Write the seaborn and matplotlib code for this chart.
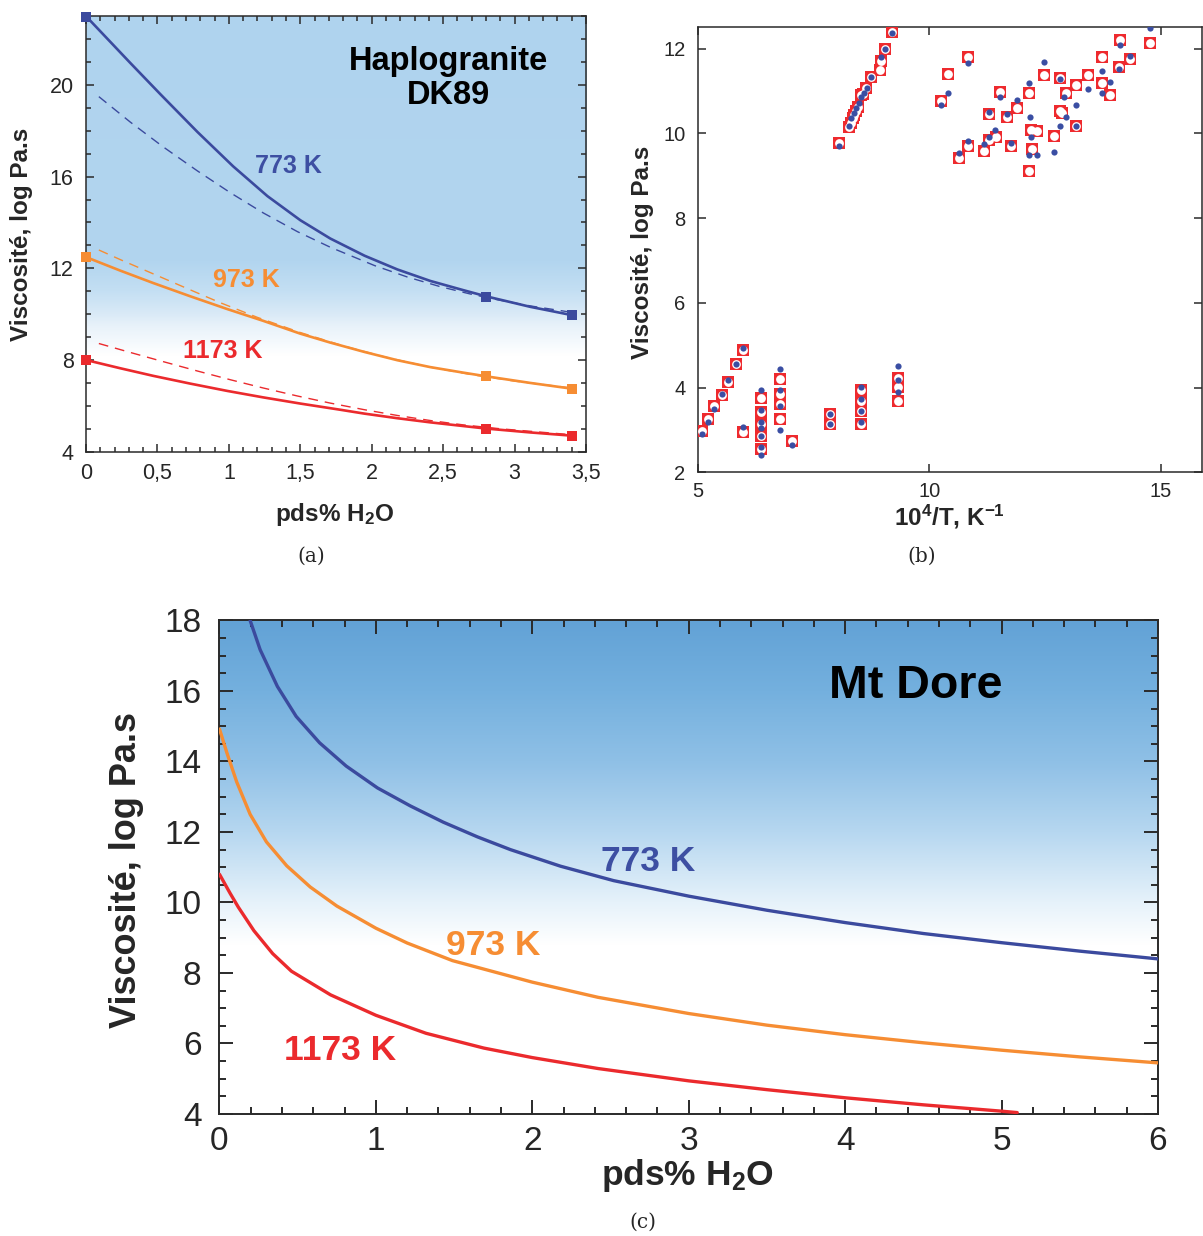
import numpy as np
import pandas as pd
import matplotlib
matplotlib.use("Agg")
import matplotlib.pyplot as plt
import seaborn as sns

# ======================= DATA =======================
# ---- (a) Haplogranite DK89 ----
a_solid_773_x = [0, 0.19, 0.31, 0.52, 0.78, 1.03, 1.27, 1.50, 1.71, 1.95, 2.18, 2.41, 2.64, 2.80, 3.11, 3.40]
a_solid_773_y = [23.0, 21.75, 20.96, 19.60, 17.95, 16.45, 15.15, 14.10, 13.30, 12.55, 11.95, 11.45, 11.05, 10.78, 10.32, 9.96]
a_dash_773_x = [0.09, 0.31, 0.54, 0.78, 1.01, 1.24, 1.48, 1.71, 2.02, 2.25, 2.48, 2.69, 2.88, 3.11, 3.40]
a_dash_773_y = [19.49, 18.38, 17.30, 16.25, 15.30, 14.42, 13.60, 12.92, 12.12, 11.62, 11.20, 10.88, 10.63, 10.36, 10.08]

a_solid_973_x = [0, 0.24, 0.47, 0.73, 0.99, 1.24, 1.50, 1.71, 1.95, 2.18, 2.41, 2.64, 2.80, 3.11, 3.40]
a_solid_973_y = [12.49, 11.90, 11.36, 10.78, 10.22, 9.71, 9.15, 8.76, 8.35, 7.99, 7.69, 7.45, 7.29, 7.00, 6.75]
a_dash_973_x = [0.09, 0.24, 0.50, 0.73, 0.94, 1.20, 1.50, 1.80, 2.10, 2.40, 2.70, 3.00, 3.40]
a_dash_973_y = [12.80, 12.38, 11.68, 11.06, 10.50, 9.86, 9.20, 8.62, 8.12, 7.70, 7.36, 7.08, 6.78]

a_solid_1173_x = [0, 0.24, 0.47, 0.73, 0.99, 1.24, 1.50, 1.78, 1.95, 2.18, 2.41, 2.64, 2.80, 3.11, 3.40]
a_solid_1173_y = [8.00, 7.64, 7.31, 6.97, 6.65, 6.37, 6.10, 5.83, 5.66, 5.46, 5.28, 5.12, 5.01, 4.84, 4.70]
a_dash_1173_x = [0.09, 0.31, 0.54, 0.78, 1.01, 1.24, 1.48, 1.71, 1.95, 2.18, 2.41, 2.64, 2.90, 3.40]
a_dash_1173_y = [8.72, 8.33, 7.93, 7.52, 7.14, 6.78, 6.43, 6.12, 5.83, 5.58, 5.36, 5.17, 5.00, 4.74]

a_sq_x = [0, 2.8, 3.4]
a_sq_773 = [22.95, 10.76, 9.96]
a_sq_973 = [12.49, 7.29, 6.75]
a_sq_1173 = [8.00, 5.00, 4.70]

a_xticks = [0, 0.5, 1, 1.5, 2, 2.5, 3, 3.5]
a_xticklabels = ["0", "0,5", "1", "1,5", "2", "2,5", "3", "3,5"]
a_yticks = [4, 8, 12, 16, 20]

# ---- (b) viscosity vs 10^4/T : red squares ----
b_sq_x = [5.09, 5.22, 5.35, 5.51, 5.65, 5.82, 5.97, 5.97,
          6.35, 6.35, 6.35, 6.35, 6.35,
          6.78, 6.78, 6.78, 6.78,
          7.02, 7.85, 7.85,
          8.52, 8.52, 8.52, 8.52,
          9.31, 9.31, 9.31,
          8.05, 8.26, 8.30, 8.34, 8.37, 8.41, 8.45, 8.52, 8.57, 8.63, 8.74, 8.94, 8.95, 9.03, 9.19,
          10.24, 10.41, 10.84, 10.63, 10.83, 11.17, 11.29, 11.29, 11.43, 11.52, 11.67, 11.76,
          11.88, 12.15, 12.15, 12.20, 12.32, 12.21, 12.47, 12.68, 12.82, 12.82, 12.87, 12.95,
          13.16, 13.16, 13.42, 13.72, 13.72, 13.90, 14.12, 14.10, 14.33, 14.76]
b_sq_y = [2.98, 3.25, 3.57, 3.82, 4.14, 4.55, 4.90, 2.96,
          3.76, 3.43, 3.14, 2.86, 2.55,
          4.20, 3.85, 3.61, 3.26,
          2.74, 3.37, 3.14,
          3.94, 3.69, 3.45, 3.14,
          4.24, 4.02, 3.69,
          9.78, 10.16, 10.25, 10.35, 10.43, 10.52, 10.63, 10.90, 10.93, 11.08, 11.33, 11.49, 11.71, 11.98, 12.38,
          10.77, 11.40, 11.81, 9.41, 9.69, 9.59, 10.46, 9.84, 9.91, 10.98, 10.38, 9.69,
          10.59, 10.96, 9.12, 10.08, 10.06, 9.63, 11.38, 9.94, 11.30, 10.53, 10.47, 10.94,
          11.14, 10.17, 11.38, 11.79, 11.18, 10.90, 12.19, 11.56, 11.75, 12.14]

# ---- (b) blue dots ----
b_dot_x = [5.09, 5.22, 5.35, 5.51, 5.65, 5.82, 5.97, 5.97,
           6.35, 6.35, 6.35, 6.35, 6.35, 6.35, 6.35,
           6.78, 6.78, 6.78, 6.78,
           7.02, 7.85, 7.85,
           8.52, 8.52, 8.52, 8.52,
           9.31, 9.31, 9.31,
           8.04, 8.26, 8.31, 8.36, 8.41, 8.47, 8.53, 8.58, 8.65, 8.74, 8.95, 9.03, 9.19,
           10.24, 10.41, 10.84, 10.63, 10.83, 11.17, 11.29, 11.29, 11.41, 11.52, 11.67, 11.76,
           11.88, 12.15, 12.18, 12.20, 12.15, 12.32, 12.47, 12.68, 12.82, 12.82, 12.90, 12.95,
           13.16, 13.16, 13.43, 13.72, 13.72, 13.90, 14.12, 14.10, 14.33, 14.76]
b_dot_y = [2.90, 3.20, 3.50, 3.84, 4.18, 4.55, 4.93, 3.08,
           3.94, 3.47, 3.20, 3.04, 2.86, 2.59, 2.41,
           4.44, 3.94, 3.57, 3.00,
           2.65, 3.39, 3.14,
           4.01, 3.73, 3.46, 3.20,
           4.50, 4.18, 3.89,
           9.70, 10.17, 10.35, 10.47, 10.59, 10.72, 10.86, 10.95, 11.06, 11.32, 11.79, 12.00, 12.36,
           10.66, 10.94, 11.65, 9.54, 9.82, 9.74, 10.51, 9.91, 10.08, 10.86, 10.46, 9.76,
           10.79, 11.18, 10.38, 9.91, 9.49, 9.50, 11.67, 9.57, 11.28, 10.17, 10.86, 10.38,
           10.67, 10.17, 11.05, 11.48, 10.94, 11.21, 12.08, 11.51, 11.83, 12.49]

b_xticks = [5, 10, 15]
b_yticks = [2, 4, 6, 8, 10, 12]

# ---- (c) Mt Dore ----
c_773_x = [0.196, 0.26, 0.37, 0.49, 0.64, 0.81, 1.01, 1.22, 1.43, 1.65, 1.86, 2.18, 2.52, 3.0, 3.5, 4.0, 4.5, 5.0, 5.5, 6.0]
c_773_y = [18.0, 17.17, 16.13, 15.28, 14.53, 13.87, 13.25, 12.74, 12.28, 11.86, 11.50, 11.03, 10.62, 10.18, 9.78, 9.43, 9.12, 8.86, 8.62, 8.40]
c_973_x = [0, 0.047, 0.11, 0.196, 0.30, 0.43, 0.58, 0.75, 1.0, 1.2, 1.49, 2.0, 2.42, 3.0, 3.5, 4.0, 4.5, 5.0, 5.5, 6.0]
c_973_y = [14.92, 14.25, 13.42, 12.50, 11.72, 11.04, 10.44, 9.90, 9.27, 8.85, 8.35, 7.74, 7.31, 6.85, 6.52, 6.25, 6.02, 5.81, 5.62, 5.45]
c_1173_x = [0, 0.068, 0.12, 0.22, 0.34, 0.46, 0.71, 1.0, 1.32, 1.69, 2.0, 2.42, 3.0, 3.5, 4.0, 4.5, 5.0, 5.1]
c_1173_y = [10.80, 10.26, 9.87, 9.20, 8.55, 8.05, 7.38, 6.80, 6.29, 5.87, 5.60, 5.29, 4.94, 4.69, 4.46, 4.26, 4.08, 4.04]

c_xticks = [0, 1, 2, 3, 4, 5, 6]
c_yticks = [4, 6, 8, 10, 12, 14, 16, 18]

# ======================= STYLE =======================
sns.set_theme(style="white")
plt.rcParams["font.family"] = ["Liberation Sans", "DejaVu Sans"]
plt.rcParams["mathtext.fontset"] = "custom"
plt.rcParams["mathtext.rm"] = "Liberation Sans"
plt.rcParams["mathtext.bf"] = "Liberation Sans:bold"
plt.rcParams["mathtext.it"] = "Liberation Sans:italic"

BLUE = "#3b4a9e"
ORANGE = "#f68d33"
RED = "#eb2a2d"
SPINE = "#2a2a2a"

fig = plt.figure(figsize=(12.03, 12.36), dpi=100)
ax_a = fig.add_axes([0.07149, 0.63455, 0.41563, 0.35235])
ax_b = fig.add_axes([0.58022, 0.61772, 0.41870, 0.36019])
ax_c = fig.add_axes([0.18246, 0.09871, 0.78013, 0.39927])


def gradient(ax, y0, y1, stops_y, stops_rgb, xlim):
    ys = np.linspace(y0, y1, 400)
    rgb = np.zeros((400, 1, 3))
    sy = np.array(stops_y)
    for k in range(3):
        rgb[:, 0, k] = np.interp(ys, sy, [c[k] for c in stops_rgb]) / 255.0
    ax.imshow(rgb, extent=[xlim[0], xlim[1], y0, y1], origin="lower",
              aspect="auto", interpolation="bilinear", zorder=0)


def style_axes(ax, lw, major_len, minor_len, pad_x, pad_y, fs):
    for s in ax.spines.values():
        s.set_visible(True)
        s.set_color(SPINE)
        s.set_linewidth(lw)
    ax.tick_params(which="both", direction="in", top=True, right=True,
                   bottom=True, left=True, color=SPINE, width=lw)
    ax.tick_params(which="major", length=major_len, labelsize=fs)
    ax.tick_params(which="minor", length=minor_len)
    ax.tick_params(axis="x", which="major", pad=pad_x)
    ax.tick_params(axis="y", which="major", pad=pad_y)


# ======================= PANEL (a) =======================
ax = ax_a
gradient(ax, 4, 23, [4, 8.2, 8.8, 9.5, 10.0, 11.0, 12.3, 23],
         [(255, 255, 255), (255, 255, 255), (244, 249, 253), (232, 242, 250),
          (218, 234, 247), (196, 223, 243), (178, 213, 239), (175, 211, 238)],
         (0, 3.5))

for xs, ys, col in [(a_solid_773_x, a_solid_773_y, BLUE),
                    (a_solid_973_x, a_solid_973_y, ORANGE),
                    (a_solid_1173_x, a_solid_1173_y, RED)]:
    sns.lineplot(x=xs, y=ys, ax=ax, color=col, lw=1.9, sort=False, estimator=None, zorder=3)
for xs, ys, col in [(a_dash_773_x, a_dash_773_y, BLUE),
                    (a_dash_973_x, a_dash_973_y, ORANGE),
                    (a_dash_1173_x, a_dash_1173_y, RED)]:
    sns.lineplot(x=xs, y=ys, ax=ax, color=col, lw=1.0, sort=False, estimator=None,
                 linestyle=(0, (7, 5)), zorder=3)
for ys, col in [(a_sq_773, BLUE), (a_sq_973, ORANGE), (a_sq_1173, RED)]:
    sns.scatterplot(x=a_sq_x, y=ys, ax=ax, color=col, marker="s", s=55,
                    linewidth=0, zorder=4, clip_on=False)

ax.set_xlim(0, 3.5)
ax.set_ylim(4, 23)
ax.set_xticks(a_xticks)
ax.set_xticklabels(a_xticklabels)
ax.set_yticks(a_yticks)
ax.set_xticks(np.arange(0, 3.5001, 0.1), minor=True)
ax.set_yticks(np.arange(4, 23.001, 1), minor=True)
style_axes(ax, 1.1, 6, 3.5, 8, 9, 15.5)

ax.set_xlabel(r"pds% H$_{\mathbf{2}}$O", fontsize=17.5, fontweight="bold",
              va="center", ha="center")
ax.xaxis.set_label_coords(0.498, -0.145)
ax.set_ylabel("Viscosité, log Pa.s", fontsize=17.5, fontweight="bold",
              va="center", ha="center")
ax.yaxis.set_label_coords(-0.129, 0.498)

ax.text(2.54, 20.28, "Haplogranite\nDK89", ha="center", va="center",
        fontsize=23.5, fontweight="bold", color="black", linespacing=1.1, zorder=5)
ax.text(1.42, 16.45, "773 K", ha="center", va="center", fontsize=18,
        fontweight="bold", color="#3d4fa2", zorder=5)
ax.text(1.12, 11.50, "973 K", ha="center", va="center", fontsize=18,
        fontweight="bold", color=ORANGE, zorder=5)
ax.text(0.96, 8.40, "1173 K", ha="center", va="center", fontsize=18,
        fontweight="bold", color=RED, zorder=5)

# ======================= PANEL (b) =======================
ax = ax_b
sns.scatterplot(x=b_sq_x, y=b_sq_y, ax=ax, marker="s", s=64, color="#ee2a2e",
                linewidth=0, zorder=3)
sns.scatterplot(x=b_sq_x, y=b_sq_y, ax=ax, marker="o", s=40, color="white",
                linewidth=0, zorder=4)
sns.scatterplot(x=b_dot_x, y=b_dot_y, ax=ax, marker="o", s=20, color="#3a4ea3",
                linewidth=0, zorder=5)
ax.set_xlim(5, 15.88)
ax.set_ylim(2, 12.5)
ax.set_xticks(b_xticks)
ax.set_yticks(b_yticks)
ax.minorticks_off()
style_axes(ax, 1.1, 6, 3, 7, 9, 14.5)
ax.set_xlabel(r"10$^{\mathbf{4}}$/T, K$^{\mathbf{-1}}$", fontsize=17.5,
              fontweight="bold", va="center", ha="center")
ax.xaxis.set_label_coords(0.50, -0.10)
ax.set_ylabel("Viscosité, log Pa.s", fontsize=17.5, fontweight="bold",
              va="center", ha="center")
ax.yaxis.set_label_coords(-0.111, 0.494)

# ======================= PANEL (c) =======================
ax = ax_c
gradient(ax, 4, 18, [4, 8.8, 10.0, 12.0, 14.0, 16.0, 18.0],
         [(255, 255, 255), (255, 255, 255), (230, 242, 250), (182, 215, 240),
          (143, 192, 230), (116, 176, 222), (98, 162, 214)],
         (0, 6))
for xs, ys, col in [(c_773_x, c_773_y, BLUE),
                    (c_973_x, c_973_y, ORANGE),
                    (c_1173_x, c_1173_y, RED)]:
    sns.lineplot(x=xs, y=ys, ax=ax, color=col, lw=2.4, sort=False, estimator=None, zorder=3)
ax.set_xlim(0, 6)
ax.set_ylim(4, 18)
ax.set_xticks(c_xticks)
ax.set_yticks(c_yticks)
ax.set_xticks(np.arange(0, 6.001, 0.2), minor=True)
ax.set_yticks(np.arange(4, 18.001, 0.5), minor=True)
style_axes(ax, 1.4, 10, 5, 9, 13, 24)
ax.set_xlabel(r"pds% H$_{\mathbf{2}}$O", fontsize=25.5, fontweight="bold",
              va="center", ha="center")
ax.xaxis.set_label_coords(0.499, -0.124)
ax.set_ylabel("Viscosité, log Pa.s", fontsize=26, fontweight="bold",
              va="center", ha="center")
ax.yaxis.set_label_coords(-0.0986, 0.494)

ax.text(4.45, 16.13, "Mt Dore", ha="center", va="center", fontsize=33.5,
        fontweight="bold", color="black", zorder=5)
ax.text(2.74, 11.17, "773 K", ha="center", va="center", fontsize=25.5,
        fontweight="bold", color="#3d4fa2", zorder=5)
ax.text(1.75, 8.79, "973 K", ha="center", va="center", fontsize=25.5,
        fontweight="bold", color=ORANGE, zorder=5)
ax.text(0.77, 5.79, "1173 K", ha="center", va="center", fontsize=25.5,
        fontweight="bold", color=RED, zorder=5)

# ======================= captions =======================
serif = ["DejaVu Serif"]
fig.text(311 / 1203, 1 - 556 / 1236, "(a)", ha="center", va="center",
         fontsize=14.5, family=serif)
fig.text(922 / 1203, 1 - 556 / 1236, "(b)", ha="center", va="center",
         fontsize=14.5, family=serif)
fig.text(643 / 1203, 1 - 1222 / 1236, "(c)", ha="center", va="center",
         fontsize=14.5, family=serif)

fig.savefig("out.png", dpi=100)
